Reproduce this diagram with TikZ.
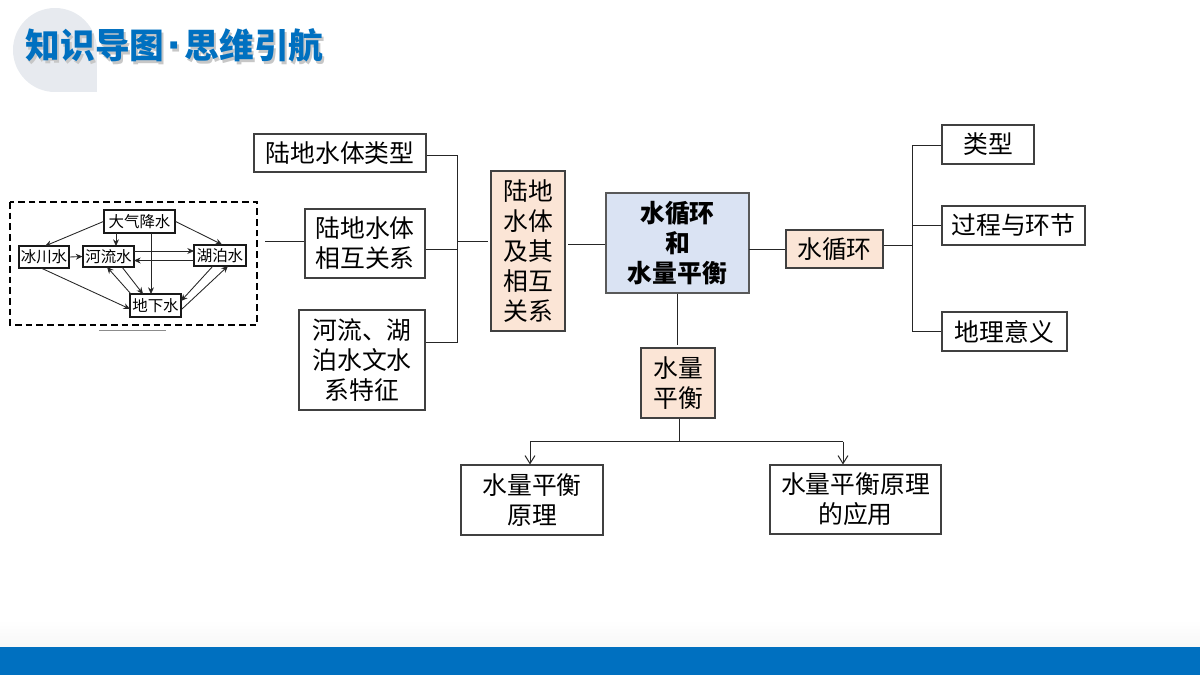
\documentclass[tikz,border=0pt]{standalone}
\usepackage{fontspec}
\setmainfont{Noto Sans CJK SC}
\newfontfamily\dotfont{Liberation Sans}
\usetikzlibrary{arrows.meta,calc}
\definecolor{peach}{HTML}{FBE5D6}
\definecolor{paleblue}{HTML}{DAE3F3}
\definecolor{barblue}{HTML}{0070C0}
\definecolor{edgegray}{HTML}{404040}
\definecolor{badge}{HTML}{E7EAEF}
\newcommand{\titletext}{知识导图\hspace{2.2pt}{\dotfont\fontsize{36pt}{30pt}\selectfont\bfseries\raisebox{-2.5pt}{·}}\hspace{1.2pt}思维引航}
\tikzset{
  x=0.75pt,y=-0.75pt,
  lab/.style={draw=edgegray,line width=0.8pt,inner sep=0pt,align=center,font=\fontsize{18.6pt}{22.5pt}\selectfont,anchor=center,fill=white},
  peachbox/.style={lab,fill=peach},
  corebox/.style={lab,draw=black!65,line width=1pt,fill=paleblue,font=\fontsize{18.6pt}{22.5pt}\selectfont\bfseries},
  link/.style={draw=black!85,line width=0.75pt},
  drop/.style={link,-{Straight Barb[length=6pt,width=7.5pt]}},
  mini/.style={draw=black!90,line width=0.9pt,inner sep=0pt,fill=white,font=\fontsize{11.6pt}{12pt}\selectfont,anchor=center},
  flow/.style={draw=black!85,line width=0.65pt,-{Stealth[length=5pt,width=4.5pt]}},
  headtext/.style={font=\fontsize{26pt}{30pt}\selectfont\bfseries,inner sep=0pt,anchor=west},
}
\newcommand{\boxat}[7]{\node[#1,minimum width=#4*0.75pt,minimum height=#5*0.75pt] (#6) at (#2,#3) {#7};}
\begin{document}
\begin{tikzpicture}
\useasboundingbox (0,0) rectangle (1200,675);
% footer
\shade[top color=white,bottom color=black!3!white] (0,620) rectangle (1200,647);
\fill[barblue] (0,647) rectangle (1200,675);
% title badge
\fill[badge] (55,50) circle[radius=42];
\fill[badge] (55,50) rectangle (97,92);
% title shadow and title
\node[headtext,text=black!22] at (27.5,48) {\titletext};
\node[headtext,text=barblue] (title) at (25.5,45.5) {\titletext};
% main boxes
\boxat{lab}{340}{153}{172}{38}{t1}{陆地水体类型}
\boxat{lab}{365}{243.5}{120}{69}{t2}{陆地水体\\相互关系}
\boxat{lab}{362}{360}{126}{100}{t3}{河流、湖\\泊水文水\\系特征}
\boxat{peachbox}{528}{251}{74}{160}{land}{陆地\\水体\\及其\\相互\\关系}
\boxat{corebox}{677.5}{243}{143}{100}{core}{水循环\\和\\水量平衡}
\boxat{peachbox}{834.5}{249}{97}{38}{cyc}{水循环}
\boxat{peachbox}{678}{383}{74}{70}{bal}{水量\\平衡}
\boxat{lab}{988}{144.5}{92}{39}{r1}{类型}
\boxat{lab}{1013.5}{225.5}{143}{39}{r2}{过程与环节}
\boxat{lab}{1004.5}{331.5}{125}{39}{r3}{地理意义}
\boxat{lab}{532}{500}{142}{70}{b1}{水量平衡\\原理}
\boxat{lab}{855.5}{499.5}{171}{69}{b2}{水量平衡原理\\的应用}
% left junctions
\coordinate (ltop) at (457.5,155.5);
\coordinate (lbot) at (457.5,342.5);
\coordinate (lmid) at (457.5,249.5);
\coordinate (ljoin) at (457.5,241.5);
\coordinate (ljoinr) at (488,241.5);
\draw[link] (t1.east |- ltop) -- (ltop) -- (lbot) -- (t3.east |- lbot);
\draw[link] (t2.east |- lmid) -- (lmid);
\draw[link] (ljoin) -- (ljoinr);
\coordinate (landr) at (568,244.5);
\draw[link] (landr) -- (core.west |- landr);
\coordinate (cyca) at (749,249.5);
\draw[link] (cyca) -- (cyc.west |- cyca);
% right junctions
\coordinate (rjoin) at (912.5,245.5);
\draw[link] (cyc.east |- rjoin) -- (rjoin);
\coordinate (rtop) at (912.5,145.5);
\coordinate (rbot) at (912.5,331.5);
\draw[link] (r1.west |- rtop) -- (rtop) -- (rbot) -- (r3.west |- rbot);
\draw[link] (rjoin |- r2.west) -- (r2.west);
% core to balance
\coordinate (balt) at (677.5,345);
\draw[link] (core.south -| balt) -- (balt);
% balance tree
\coordinate (bj) at (679.5,441.5);
\draw[link] (bal.south -| bj) -- (bj);
\coordinate (bl) at (530,441.5);
\coordinate (br) at (843,441.5);
\draw[link] (bl) -- (br);
\draw[drop] (bl) -- (bl |- b1.north);
\draw[drop] (br) -- (br |- b2.north);
% inset
\draw[line width=0.8pt,dash pattern=on 5pt off 3pt] (10,202) rectangle (257,325);
\coordinate (insr) at (265,241.5);
\draw[link] (insr) -- (t2.west |- insr);
\draw[draw=black!45,line width=0.5pt] (99,330.5) -- (166,330.5);
\boxat{mini}{139.5}{221.5}{71}{23}{rain}{大气降水}
\boxat{mini}{44}{257}{50}{22}{ice}{冰川水}
\boxat{mini}{108.5}{256.5}{51}{21}{riv}{河流水}
\boxat{mini}{220}{255.5}{52}{21}{lake}{湖泊水}
\boxat{mini}{155.5}{305.5}{51}{23}{gw}{地下水}
\draw[flow] (rain.west) -- (45,246);
\draw[flow] (116,233) -- (116,246);
\draw[flow] (151,233) -- (151,294);
\draw[flow] (rain.east) -- (222,244.5);
\draw[flow] (ice.east) -- (riv.west);
\draw[flow] (134,251) -- (194,251);
\draw[flow] (194,260.5) -- (134,260.5);
\draw[flow] (41,268) -- (130,309);
\draw[flow] (122,267) -- (143,294);
\draw[flow] (131,294) -- (107,267);
\draw[flow] (213,266) -- (181,301);
\draw[flow] (182,309) -- (228,266);
\end{tikzpicture}
\end{document}
